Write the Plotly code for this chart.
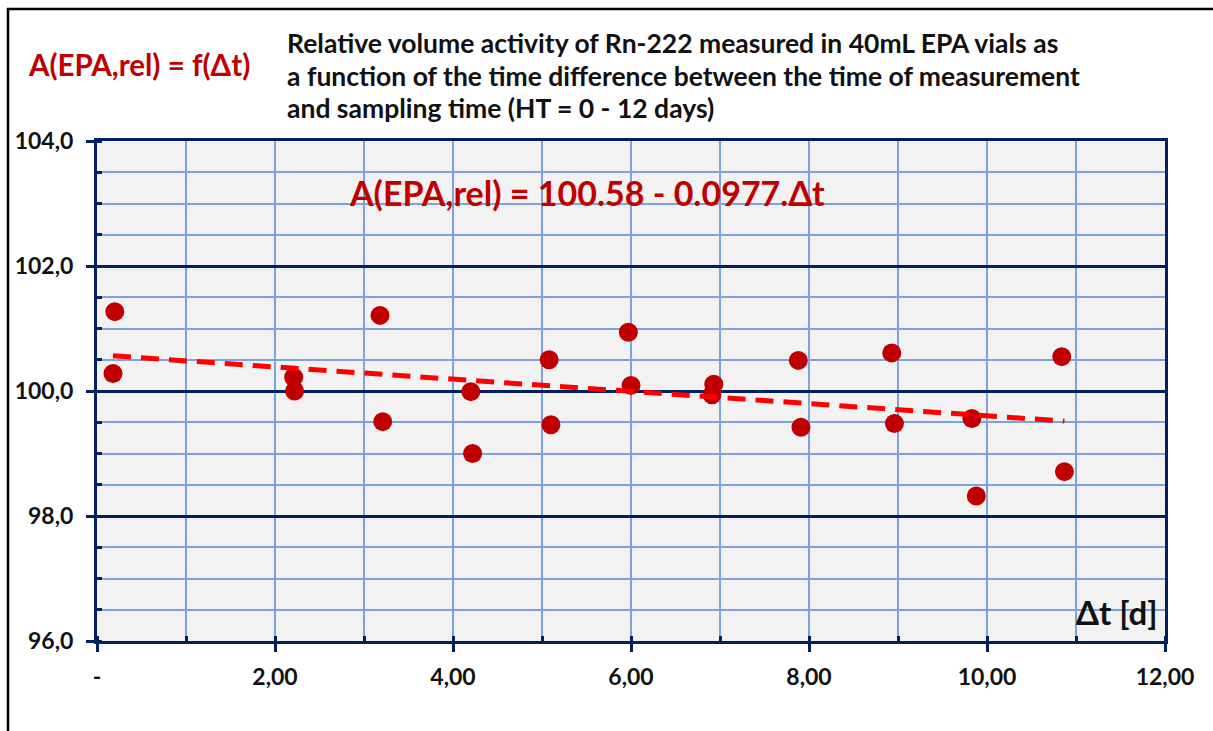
import plotly.graph_objects as go

# Time difference between measurement and sampling [d]
dt_days = [0.20, 0.18, 2.21, 2.22, 3.18, 3.21, 4.20, 4.22, 5.08, 5.10, 5.97,
           6.00, 6.93, 6.91, 7.88, 7.91, 8.93, 8.96, 9.83, 9.88, 10.84, 10.87]
# Relative volume activity A(EPA,rel) [%]
a_rel = [101.27, 100.28, 100.22, 100.00, 101.21, 99.51, 99.99, 99.00, 100.50,
         99.46, 100.94, 100.09, 100.11, 99.94, 100.49, 99.42, 100.61, 99.48,
         99.56, 98.32, 100.55, 98.71]

# Linear fit: A = intercept + slope * dt
fit_intercept = 100.58
fit_slope = -0.0977

x_tickvals = [0, 2, 4, 6, 8, 10, 12]
x_ticktext = ["-", "2,00", "4,00", "6,00", "8,00", "10,00", "12,00"]
y_tickvals = [96, 98, 100, 102, 104]
y_ticktext = ["96,0", "98,0", "100,0", "102,0", "104,0"]

NAVY = "#002060"
GRID = "#7BA3E0"
DARKRED = "#C00000"
FONT = "Lato"

W, H = 1213, 731
L, R, T, B = 97, 48, 141, 90


def px(xp):
    return (xp - L) / (W - L - R)


def py(yp):
    return (H - B - yp) / (H - T - B)


fit_x = [min(dt_days), max(dt_days)]
fit_y = [fit_intercept + fit_slope * v for v in fit_x]

fig = go.Figure()
fig.add_trace(go.Scatter(
    x=dt_days, y=a_rel, mode="markers",
    marker=dict(size=19, color=DARKRED, line=dict(width=0)),
    showlegend=False, hoverinfo="x+y",
))
fig.add_trace(go.Scatter(
    x=fit_x, y=fit_y, mode="lines",
    line=dict(color="#FF0000", width=5, dash="18px,10px"),
    showlegend=False, hoverinfo="skip",
))

axis_common = dict(
    showline=True, linecolor=NAVY, linewidth=3, mirror=True,
    zeroline=False, ticks="outside", ticklen=8, tickwidth=3, tickcolor=NAVY,
    tickfont=dict(family=FONT, size=23, color="#111111", weight="bold"),
)

fig.update_xaxes(
    range=[0, 12], tickmode="array", tickvals=x_tickvals, ticktext=x_ticktext,
    showgrid=True, gridcolor=GRID, gridwidth=1.5,
    minor=dict(dtick=1, showgrid=True, gridcolor=GRID, gridwidth=1.5,
               ticks="inside", ticklen=5, tickwidth=3, tickcolor=NAVY),
    ticklabelstandoff=5,
    **axis_common,
)
fig.update_yaxes(
    range=[96, 104], tickmode="array", tickvals=y_tickvals, ticktext=y_ticktext,
    showgrid=True, gridcolor=NAVY, gridwidth=3,
    minor=dict(dtick=0.5, showgrid=True, gridcolor=GRID, gridwidth=1.5,
               ticks="inside", ticklen=5, tickwidth=3, tickcolor=NAVY),
    ticklabelstandoff=8,
    **axis_common,
)

title_lines = [
    "Relative volume activity of Rn-222 measured in 40mL EPA vials as",
    "a function of the time difference between the time of measurement",
    "and sampling time (HT = 0 - 12 days)",
]
title_y = [43, 76, 108]

annotations = []
for line, yc in zip(title_lines, title_y):
    annotations.append(dict(
        text=line, xref="paper", yref="paper", x=px(285), y=py(yc),
        xanchor="left", yanchor="middle", showarrow=False,
        font=dict(family=FONT, size=26.5, color="#111111", weight="bold"),
    ))
annotations.append(dict(
    text="A(EPA,rel) = f(Δt)", xref="paper", yref="paper",
    x=px(26), y=py(64), xanchor="left", yanchor="middle", showarrow=False,
    font=dict(family=FONT, size=29.5, color=DARKRED, weight="bold"),
))
annotations.append(dict(
    text="A(EPA,rel) = 100.58 - 0.0977.Δt", xref="paper", yref="paper",
    x=px(347), y=py(192), xanchor="left", yanchor="middle", showarrow=False,
    font=dict(family=FONT, size=34, color=DARKRED, weight="bold"),
))
annotations.append(dict(
    text="Δt [d]", xref="paper", yref="paper",
    x=px(1160), y=py(612), xanchor="right", yanchor="middle", showarrow=False,
    font=dict(family=FONT, size=33, color="#111111", weight="bold"),
))

# Outer chart frame: left edge and top edge
frame_style = dict(color="#000000", width=2.5)
frame = [
    dict(type="line", xref="paper", yref="paper",
         x0=px(8), y0=py(H + 40), x1=px(8), y1=py(8), line=frame_style),
    dict(type="line", xref="paper", yref="paper",
         x0=px(7), y0=py(9), x1=px(W + 100), y1=py(9), line=frame_style),
]

fig.update_layout(
    width=W, height=H, autosize=False,
    margin=dict(l=L, r=R, t=T, b=B),
    paper_bgcolor="white", plot_bgcolor="#F2F2F2",
    annotations=annotations, shapes=frame,
    font=dict(family=FONT),
)

fig.write_html("out.html", config={"displayModeBar": False})
